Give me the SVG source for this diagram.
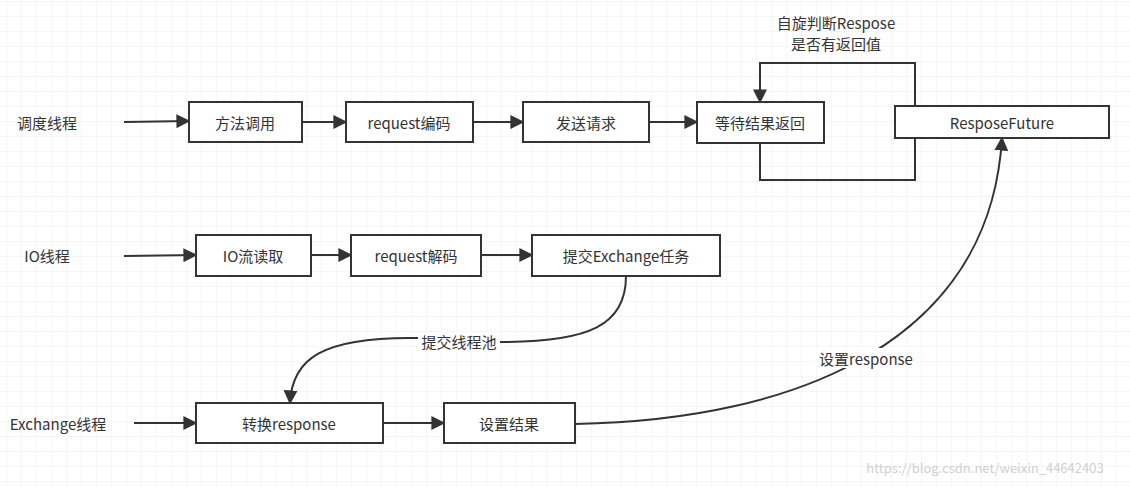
<svg xmlns="http://www.w3.org/2000/svg" width="1130" height="487" viewBox="0 0 1130 487">
<defs>
<pattern id="g" x="7" y="2" width="15" height="15" patternUnits="userSpaceOnUse"><path d="M15 0V15M0 15H15" fill="none" stroke="#ececec" stroke-width="1"/></pattern>
<marker id="b" viewBox="0 0 10 10" refX="9" refY="5" markerWidth="14" markerHeight="14" orient="auto" markerUnits="userSpaceOnUse"><path d="M0 0L10 5L0 10Z" fill="#333"/></marker>
<style>
text{font-family:"Noto Sans CJK SC","Liberation Sans",sans-serif;font-size:15px;fill:#333;text-anchor:middle;dominant-baseline:central}
.n{fill:#fff;stroke:#333;stroke-width:2}
.c{fill:none;stroke:#333;stroke-width:2;marker-end:url(#b)}
.l{fill:none;stroke:#333;stroke-width:2}
.bg{fill:#fff;stroke:none}
</style>
</defs>
<rect width="1130" height="487" fill="#fff"/>
<rect width="1130" height="487" fill="url(#g)"/>
<g id="labels">
<text x="47" y="122">调度线程</text>
<text x="47" y="255">IO线程</text>
<text x="58" y="423">Exchange线程</text>
</g>
<g id="connectors">
<path class="c" d="M124 122L189 121"/>
<path class="c" d="M302 122L346 122"/>
<path class="c" d="M473 122L523 122"/>
<path class="c" d="M649 122L697 122"/>
<path class="c" d="M915 106V63H760V102"/>
<path class="l" d="M760 143V180H915V138"/>
<path class="c" d="M124 256L196 255"/>
<path class="c" d="M311 255L351 255"/>
<path class="c" d="M481 255L532 255"/>
<path class="c" d="M134 423L196 423"/>
<path class="c" d="M383 423L444 423"/>
<path class="c" d="M626 276C626 325 590 342 500 342L420 338C320 336 292 360 290 403"/>
<path class="c" d="M575 424C800 420 990 340 1002 138"/>
<rect class="bg" x="418" y="332" width="82" height="20"/>
<text x="459" y="341">提交线程池</text>
<rect class="bg" x="814" y="348" width="104" height="20"/>
<text x="866" y="358">设置response</text>
<text x="836" y="22">自旋判断Respose</text>
<text x="836" y="43">是否有返回值</text>
</g>
<g id="n1"><rect class="n" x="189" y="102" width="113" height="40"/><text x="245" y="122">方法调用</text></g>
<g id="n2"><rect class="n" x="346" y="102" width="127" height="40"/><text x="409" y="122">request编码</text></g>
<g id="n3"><rect class="n" x="523" y="102" width="126" height="40"/><text x="586" y="122">发送请求</text></g>
<g id="n4"><rect class="n" x="697" y="102" width="127" height="41"/><text x="760" y="122">等待结果返回</text></g>
<g id="n5"><rect class="n" x="895" y="106" width="214" height="32"/><text x="1002" y="122">ResposeFuture</text></g>
<g id="n6"><rect class="n" x="196" y="235" width="115" height="41"/><text x="253" y="255">IO流读取</text></g>
<g id="n7"><rect class="n" x="351" y="235" width="130" height="41"/><text x="416" y="255">request解码</text></g>
<g id="n8"><rect class="n" x="532" y="235" width="188" height="41"/><text x="626" y="255">提交Exchange任务</text></g>
<g id="n9"><rect class="n" x="196" y="403" width="187" height="40"/><text x="289" y="423">转换response</text></g>
<g id="n10"><rect class="n" x="444" y="403" width="131" height="40"/><text x="509" y="423">设置结果</text></g>
<text x="985" y="467" style="font-size:13px;fill:#d0d0d0">https://blog.csdn.net/weixin_44642403</text>
</svg>
